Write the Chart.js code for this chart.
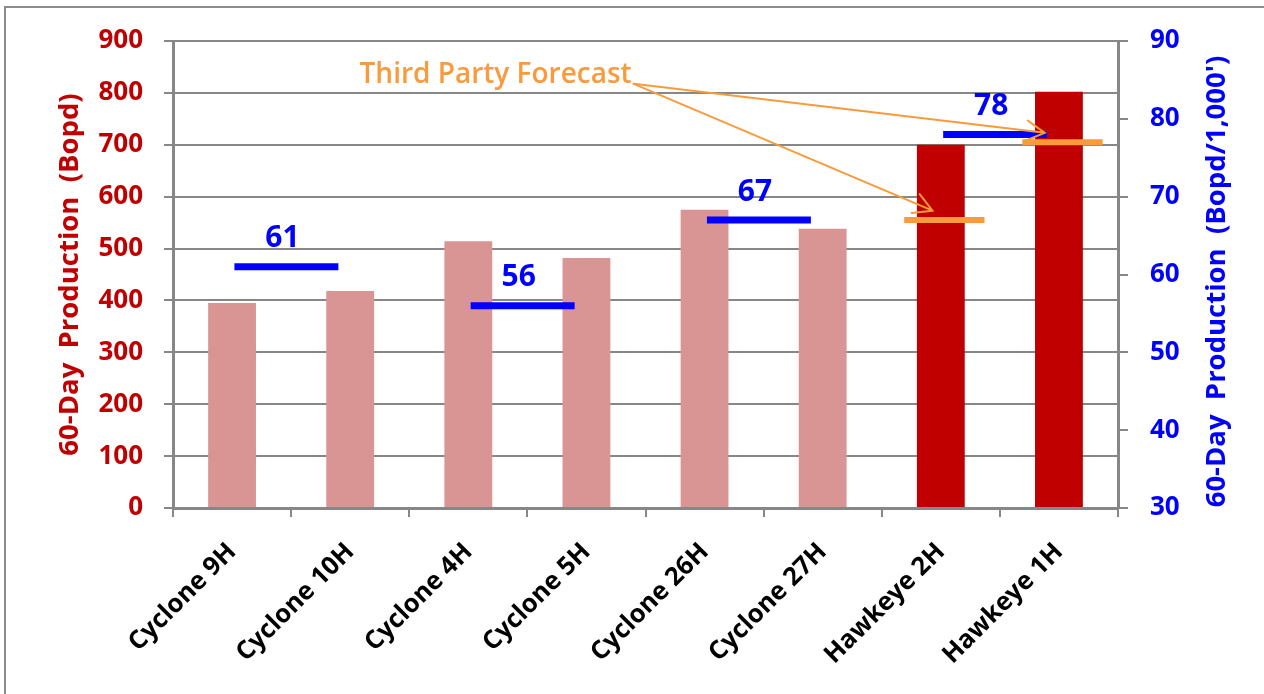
<!DOCTYPE html>
<html>
<head>
<meta charset="utf-8">
<script src="https://cdn.jsdelivr.net/npm/chart.js@4/dist/chart.umd.min.js"></script>
<style>
  html, body { margin: 0; padding: 0; background: #fff; }
  #wrap { width: 1264px; height: 694px; }
</style>
</head>
<body>
<div id="wrap"><canvas id="chart" width="1264" height="694"></canvas></div>
<script>
// Wells and their 60-day average production (Bopd)
const wells = ['Cyclone 9H', 'Cyclone 10H', 'Cyclone 4H', 'Cyclone 5H',
               'Cyclone 26H', 'Cyclone 27H', 'Hawkeye 2H', 'Hawkeye 1H'];
const production = [395, 418, 514, 482, 575, 538, 700, 802];

// Pad averages, normalised per 1,000 ft of lateral (one value per pair of wells)
const pairAverages = [61, 56, 67, 78];

// Third party forecast for the Hawkeye wells (Bopd/1,000')
const forecastWells = ['Hawkeye 2H', 'Hawkeye 1H'];
const forecastValues = [67, 77];

// Axis tick values
const leftTicks = [0, 100, 200, 300, 400, 500, 600, 700, 800, 900];
const rightTicks = [30, 40, 50, 60, 70, 80, 90];

const forecastLabel = 'Third Party Forecast';
const leftTitle = '60-Day  Production  (Bopd)';
const rightTitle = "60-Day  Production  (Bopd/1,000')";

const RED = '#C00000';
const PINK = '#D99594';
const BLUE = '#0000FF';
const ORANGE = '#F99A3C';
const GRID = '#878787';
const FONT = '"Open Sans", "DejaVu Sans", sans-serif';

// Per-pair line points on a linear overlay axis where well i sits at x = i
const pairPoints = [];
pairAverages.forEach((v, i) => {
  pairPoints.push({ x: 2 * i + 0.02, y: v });
  pairPoints.push({ x: 2 * i + 0.9, y: v });
});

const forecastPoints = [];
forecastWells.forEach((w, i) => {
  const idx = wells.indexOf(w);
  forecastPoints.push({ x: idx - 0.31, y: forecastValues[i] });
  forecastPoints.push({ x: idx + 0.37, y: forecastValues[i] });
});

function arrow(ctx, x0, y0, x1, y1) {
  const ang = Math.atan2(y1 - y0, x1 - x0);
  const len = 21, spread = Math.PI / 6.2;
  ctx.beginPath();
  ctx.moveTo(x0, y0);
  ctx.lineTo(x1, y1);
  ctx.moveTo(x1 - len * Math.cos(ang - spread), y1 - len * Math.sin(ang - spread));
  ctx.lineTo(x1, y1);
  ctx.lineTo(x1 - len * Math.cos(ang + spread), y1 - len * Math.sin(ang + spread));
  ctx.stroke();
}

const decorations = {
  id: 'decorations',
  beforeDraw(chart) {
    const ctx = chart.ctx;
    ctx.save();
    ctx.fillStyle = '#fff';
    ctx.fillRect(0, 0, chart.width, chart.height);
    ctx.strokeStyle = '#8c8c8c';
    ctx.lineWidth = 2;
    ctx.strokeRect(5, 7, chart.width + 20, chart.height + 20);
    ctx.restore();
  },
  afterDatasetsDraw(chart) {
    const { ctx, chartArea } = chart;
    const xl = chart.scales.xl, y1 = chart.scales.y1;
    ctx.save();

    // pair average labels
    ctx.fillStyle = BLUE;
    ctx.font = 'bold 30px ' + FONT;
    ctx.textAlign = 'center';
    ctx.textBaseline = 'middle';
    pairAverages.forEach((v, i) => {
      const cx = (xl.getPixelForValue(pairPoints[2 * i].x) + xl.getPixelForValue(pairPoints[2 * i + 1].x)) / 2;
      ctx.fillText(String(v), cx - 4, y1.getPixelForValue(v) - 28);
    });

    // forecast call-out with arrows
    const sx = xl.getPixelForValue(3.4), sy = y1.getPixelForValue(84.5);
    ctx.fillStyle = ORANGE;
    ctx.font = '600 28px ' + FONT;
    ctx.textAlign = 'right';
    ctx.textBaseline = 'alphabetic';
    ctx.fillText(forecastLabel, sx - 2, sy - 1);
    ctx.strokeStyle = ORANGE;
    ctx.lineWidth = 2;
    ctx.lineCap = 'round';
    ctx.lineJoin = 'miter';
    forecastWells.forEach((w, i) => {
      const idx = wells.indexOf(w);
      const tx = xl.getPixelForValue(idx - 0.07 - 0.05 * i);
      const ty = y1.getPixelForValue(forecastValues[i] + 1.2);
      arrow(ctx, sx, sy, tx, ty);
    });

    // axis titles
    const midY = (chartArea.top + chartArea.bottom) / 2;
    ctx.font = 'bold 27.5px ' + FONT;
    ctx.textAlign = 'center';
    ctx.textBaseline = 'middle';
    ctx.fillStyle = RED;
    ctx.save();
    ctx.translate(chartArea.left - 103, midY);
    ctx.rotate(-Math.PI / 2);
    ctx.fillText(leftTitle, 0, 0);
    ctx.restore();
    ctx.fillStyle = BLUE;
    ctx.save();
    ctx.translate(chartArea.right + 99, midY + 7);
    ctx.rotate(-Math.PI / 2);
    ctx.fillText(rightTitle, 0, 0);
    ctx.restore();

    ctx.restore();
  }
};

new Chart(document.getElementById('chart'), {
  data: {
    labels: wells,
    datasets: [
      {
        type: 'bar',
        label: '60-Day Production',
        data: production,
        backgroundColor: wells.map(w => w.startsWith('Hawkeye') ? RED : PINK),
        grouped: false,
        barPercentage: 0.405,
        categoryPercentage: 1,
        xAxisID: 'x',
        yAxisID: 'y',
        order: 3
      },
      {
        type: 'line',
        label: 'Third Party Forecast',
        data: forecastPoints,
        borderColor: ORANGE,
        borderWidth: 6,
        borderCapStyle: 'butt',
        pointRadius: 0,
        segment: { borderColor: c => (c.p0DataIndex % 2 ? 'rgba(0,0,0,0)' : ORANGE) },
        xAxisID: 'xl',
        yAxisID: 'y1',
        order: 2
      },
      {
        type: 'line',
        label: "Bopd/1,000'",
        data: pairPoints,
        borderColor: BLUE,
        borderWidth: 7,
        borderCapStyle: 'butt',
        pointRadius: 0,
        segment: { borderColor: c => (c.p0DataIndex % 2 ? 'rgba(0,0,0,0)' : BLUE) },
        xAxisID: 'xl',
        yAxisID: 'y1',
        order: 1
      }
    ]
  },
  options: {
    responsive: false,
    devicePixelRatio: 1,
    animation: false,
    layout: { padding: { top: 41, left: 0, right: 0, bottom: 0 } },
    plugins: { legend: { display: false }, tooltip: { enabled: false } },
    scales: {
      x: {
        type: 'category',
        position: 'bottom',
        offset: true,
        grid: { offset: true, drawOnChartArea: false, drawTicks: true, tickLength: 9, color: GRID, lineWidth: 2 },
        border: { display: true, color: GRID, width: 3 },
        ticks: {
          color: '#000',
          font: { family: FONT, size: 25.5, weight: 'bold' },
          minRotation: 45, maxRotation: 45,
          padding: 20,
          autoSkip: false
        },
        afterFit: s => { s.height = 186; }
      },
      xl: { type: 'linear', display: false, min: -0.5, max: 7.5 },
      y: {
        type: 'linear',
        position: 'left',
        min: 0, max: 900,
        afterBuildTicks: s => { s.ticks = leftTicks.map(v => ({ value: v })); },
        grid: { color: GRID, lineWidth: 2, tickLength: 9, drawTicks: true },
        border: { display: true, color: GRID, width: 3 },
        ticks: { color: RED, font: { family: FONT, size: 26, weight: 'bold' }, padding: 21 },
        afterFit: s => { s.width = 173; }
      },
      y1: {
        type: 'linear',
        position: 'right',
        min: 30, max: 90,
        afterBuildTicks: s => { s.ticks = rightTicks.map(v => ({ value: v })); },
        grid: { drawOnChartArea: false, color: GRID, lineWidth: 2, tickLength: 10, drawTicks: true },
        border: { display: true, color: GRID, width: 3 },
        ticks: { color: BLUE, font: { family: FONT, size: 26, weight: 'bold' }, padding: 22 },
        afterFit: s => { s.width = 146; }
      }
    }
  },
  plugins: [decorations]
});
</script>
</body>
</html>
